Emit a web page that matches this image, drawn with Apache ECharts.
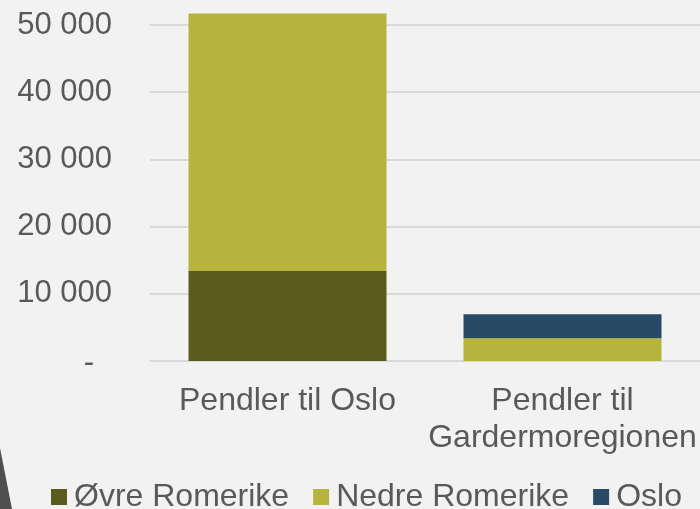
<!DOCTYPE html>
<html>
<head>
<meta charset="utf-8">
<script src="https://cdn.jsdelivr.net/npm/echarts@6/dist/echarts.min.js"></script>
<style>
  html, body { margin: 0; padding: 0; background: #f2f2f2; }
  #chart { width: 700px; height: 509px; }
</style>
</head>
<body>
<div id="chart"></div>
<script>
// data
var categories = ["Pendler til Oslo", "Pendler til\nGardermoregionen"];
var seriesNames = ["Øvre Romerike", "Nedre Romerike", "Oslo"];
var ovreRomerike = [13400, 0];
var nedreRomerike = [38300, 3400];
var oslo = [0, 3550];
var colors = ["#5b5b1e", "#b7b43e", "#284a66"];

var font = "Liberation Sans, Arial, sans-serif";
var textColor = "#595959";

// accounting style: zero shown as a dash, thousands split by a space
function fmt(v) {
  if (v === 0) return "{dash|-}";
  return String(v).replace(/\B(?=(\d{3})+(?!\d))/g, " ");
}

var myChart = echarts.init(document.getElementById("chart"));

var options = {
  backgroundColor: "#f2f2f2",
  animation: false,
  color: colors,
  textStyle: { fontFamily: font },
  grid: {
    left: 150,
    right: 0,
    top: 25,
    bottom: 148,
  },
  legend: {
    left: 51,
    top: 481,
    padding: 0,
    icon: "rect",
    itemWidth: 16,
    itemHeight: 16,
    itemGap: 24,
    textStyle: {
      fontFamily: font,
      fontSize: 32,
      color: textColor,
      padding: [0, 0, 0, 2],
    },
    data: seriesNames,
  },
  xAxis: {
    type: "category",
    data: categories,
    axisLine: { show: false },
    axisTick: { show: false },
    axisLabel: {
      margin: 22,
      fontFamily: font,
      fontSize: 32,
      lineHeight: 37,
      color: textColor,
      interval: 0,
    },
  },
  yAxis: {
    type: "value",
    min: 0,
    max: 50000,
    interval: 10000,
    axisLine: { show: false },
    axisTick: { show: false },
    splitLine: {
      lineStyle: { color: "#d9d9d9", width: 2 },
    },
    axisLabel: {
      margin: 38,
      fontFamily: font,
      fontSize: 31,
      color: textColor,
      formatter: fmt,
      rich: {
        dash: {
          fontFamily: font,
          fontSize: 31,
          color: textColor,
          padding: [4, 18, 0, 0],
        },
      },
    },
  },
  series: [
    {
      name: seriesNames[0],
      type: "bar",
      stack: "total",
      clip: false,
      barCategoryGap: "28%",
      data: ovreRomerike,
    },
    {
      name: seriesNames[1],
      type: "bar",
      stack: "total",
      clip: false,
      data: nedreRomerike,
    },
    {
      name: seriesNames[2],
      type: "bar",
      stack: "total",
      clip: false,
      data: oslo,
    },
  ],
  graphic: [
    {
      type: "polygon",
      shape: { points: [[0, 448], [12, 509], [0, 509]] },
      style: { fill: "#4d504c" },
      silent: true,
    },
  ],
};
myChart.setOption(options);
</script>
</body>
</html>
